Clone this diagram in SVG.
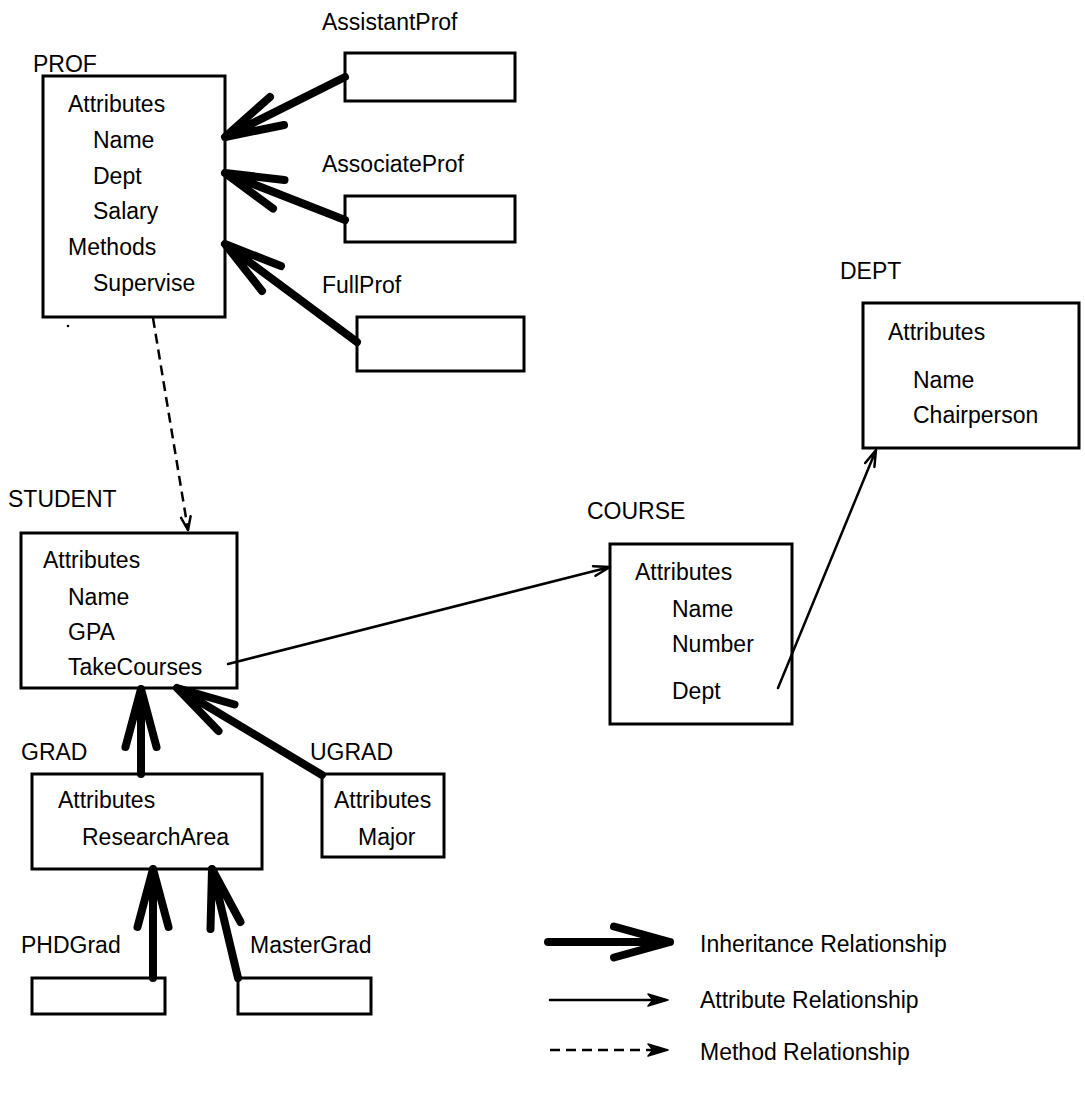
<svg xmlns="http://www.w3.org/2000/svg" width="1085" height="1094" viewBox="0 0 1085 1094">
<style>
text{font-family:"Liberation Sans",Arial,sans-serif;font-size:23px;fill:#000}
.box{fill:none;stroke:#000;stroke-width:3}
.inh{fill:none;stroke:#000;stroke-width:8;stroke-linecap:round;stroke-linejoin:round}
.attr{fill:none;stroke:#000;stroke-width:2.5;stroke-linecap:round;stroke-linejoin:round}
.meth{fill:none;stroke:#000;stroke-width:2.5;stroke-dasharray:10 6}
</style>
<rect width="1085" height="1094" fill="#fff"/>
<g id="prof">
<text x="33" y="72">PROF</text>
<rect class="box" x="43" y="76" width="182" height="241"/>
<text x="68" y="112">Attributes</text>
<text x="93" y="148">Name</text>
<text x="93" y="184">Dept</text>
<text x="93" y="219">Salary</text>
<text x="68" y="255">Methods</text>
<text x="93" y="291">Supervise</text>
</g>
<g id="assistantprof">
<text x="322" y="30">AssistantProf</text>
<rect class="box" x="345" y="53" width="170" height="48"/>
</g>
<g id="associateprof">
<text x="322" y="172">AssociateProf</text>
<rect class="box" x="345" y="196" width="170" height="46"/>
</g>
<g id="fullprof">
<text x="322" y="293">FullProf</text>
<rect class="box" x="357" y="317" width="167" height="54"/>
</g>
<circle cx="68" cy="326" r="1.3" fill="#000"/>
<g id="dept">
<text x="840" y="279">DEPT</text>
<rect class="box" x="863" y="303" width="216" height="145"/>
<text x="888" y="340">Attributes</text>
<text x="913" y="388">Name</text>
<text x="913" y="423">Chairperson</text>
</g>
<g id="student">
<text x="8" y="507">STUDENT</text>
<rect class="box" x="21" y="533" width="216" height="155"/>
<text x="43" y="568">Attributes</text>
<text x="68" y="605">Name</text>
<text x="68" y="640">GPA</text>
<text x="68" y="675">TakeCourses</text>
</g>
<g id="course">
<text x="587" y="519">COURSE</text>
<rect class="box" x="610" y="544" width="182" height="180"/>
<text x="635" y="580">Attributes</text>
<text x="672" y="617">Name</text>
<text x="672" y="652">Number</text>
<text x="672" y="699">Dept</text>
</g>
<g id="grad">
<text x="21" y="760">GRAD</text>
<rect class="box" x="32" y="774" width="230" height="95"/>
<text x="58" y="808">Attributes</text>
<text x="82" y="845">ResearchArea</text>
</g>
<g id="ugrad">
<text x="310" y="760">UGRAD</text>
<rect class="box" x="322" y="774" width="122" height="83"/>
<text x="334" y="808">Attributes</text>
<text x="358" y="845">Major</text>
</g>
<g id="phdgrad">
<text x="21" y="953">PHDGrad</text>
<rect class="box" x="32" y="978" width="133" height="36"/>
</g>
<g id="mastergrad">
<text x="250" y="953">MasterGrad</text>
<rect class="box" x="238" y="978" width="133" height="36"/>
</g>
<g id="connectors">
<path class="inh" d="M345,77 L225,137 M284,125 L225,137 L270,97"/>
<path class="inh" d="M345,220 L225,173 M273,208.5 L225,173 L284.5,180"/>
<path class="inh" d="M357,342 L225,244 M262,291 L225,244 L281,266"/>
<path class="inh" d="M141,774 L141,689 M125.5,747 L141,689 L156.5,747"/>
<path class="inh" d="M322,775 L177,688 M218.5,731 L177,688 L234.5,704.5"/>
<path class="inh" d="M153,978 L153,869 M137.5,927 L153,869 L168.5,927"/>
<path class="inh" d="M238,978 L212,869 M210.5,929 L212,869 L240.5,922"/>
<path class="meth" d="M153,318 L188,530"/>
<path class="attr" d="M190.6,516.2 L188,530 L181.1,517.8"/>
<path class="attr" d="M228,664 L610,567 M593,566.2 L610,567 L595.5,575.8"/>
<path class="attr" d="M778,688 L876,450 M874.4,467 L876,450 L865.2,463"/>
</g>
<g id="legend">
<path class="inh" d="M548,942 L670,942 M614,926.5 L670,942 L614,957.5"/>
<text x="700" y="952">Inheritance Relationship</text>
<path class="attr" d="M550,1000 L665,1000"/>
<path d="M648,994 L668,1000 L648,1006 L653,1000 Z" fill="#000" stroke="#000" stroke-width="1.5" stroke-linejoin="round"/>
<text x="700" y="1008">Attribute Relationship</text>
<path class="meth" d="M550,1050 L655,1050"/>
<path d="M648,1044 L668,1050 L648,1056 L653,1050 Z" fill="#000" stroke="#000" stroke-width="1.5" stroke-linejoin="round"/>
<text x="700" y="1060">Method Relationship</text>
</g>
</svg>
